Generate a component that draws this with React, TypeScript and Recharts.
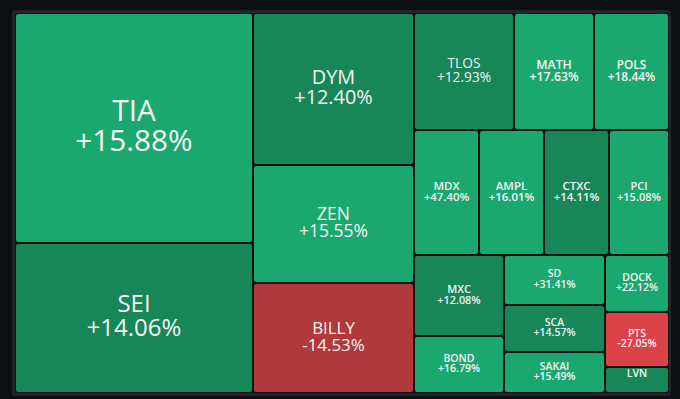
import React from 'react'
import { Treemap } from 'recharts'

// tile order matters: squarified layout fills columns/rows in this order
const names = [
  'TIA', 'SEI', 'DYM', 'ZEN', 'BILLY', 'TLOS', 'MATH', 'POLS', 'MDX', 'AMPL',
  'CTXC', 'PCI', 'MXC', 'BOND', 'SD', 'SCA', 'SAKAI', 'DOCK', 'PTS', 'LVN',
]
const sizes = [
  54740, 35700, 24472, 18998, 17710, 11700, 9360, 8775, 8125, 8125,
  8125, 7500, 7290, 5130, 5050, 4747, 4141, 3648, 3520, 1664,
]
const changes = [
  15.88, 14.06, 12.4, 15.55, -14.53, 12.93, 17.63, 18.44, 47.4, 16.01,
  14.11, 15.08, 12.08, 16.79, 31.41, 14.57, 15.49, 22.12, -27.05, 11.2,
]

const data = names.map((name, i) => ({ name, size: sizes[i], change: changes[i] }))

const tileColor = (c: number) => {
  if (c >= 15) return '#1ba870'
  if (c >= 0) return '#178659'
  if (c > -15) return '#b0393d'
  return '#dc4348'
}

const fmt = (c: number) => `${c >= 0 ? '+' : ''}${c.toFixed(2)}%`

const Tile = (props: any) => {
  const { x, y, width, height, depth, name, change } = props
  if (depth !== 1) return null
  const cx = x + width / 2
  const cy = y + height / 2
  const fs = Math.max(10.5, 0.127 * Math.sqrt(width * height))
  const weight = fs < 12.5 ? 600 : 400
  const showPct = height > 30
  return (
    <g>
      <rect
        x={x}
        y={y}
        width={width}
        height={height}
        rx={3}
        fill={tileColor(change)}
        stroke="#101215"
        strokeWidth={2}
      />
      <text
        x={cx}
        y={cy - 0.24 * fs}
        textAnchor="middle"
        fill="#f4f4f4"
        fontSize={fs}
        fontWeight={weight}
        fontFamily="'Open Sans', sans-serif"
      >
        <tspan x={cx}>{name}</tspan>
        {showPct && (
          <tspan x={cx} dy={fs}>
            {fmt(change)}
          </tspan>
        )}
      </text>
    </g>
  )
}

export default function App() {
  return (
    <div style={{ position: 'absolute', left: 0, top: 0, width: 680, height: 399, background: '#0e0f12', overflow: 'hidden' }}>
      <div style={{ position: 'absolute', left: 12, top: 10, width: 659, height: 386, background: '#22262b', borderRadius: 4 }} />
      <div style={{ position: 'absolute', left: 15, top: 13 }}>
        <Treemap
          width={654}
          height={380}
          data={data}
          dataKey="size"
          nameKey="name"
          isAnimationActive={false}
          content={<Tile />}
        />
      </div>
    </div>
  )
}
